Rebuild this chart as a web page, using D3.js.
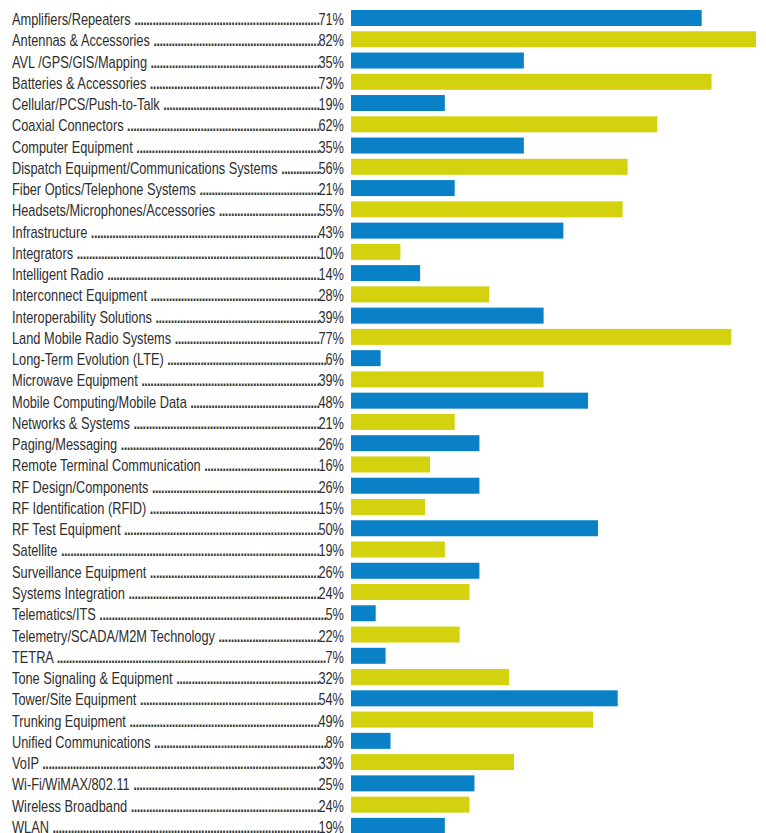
<!DOCTYPE html>
<html>
<head>
<meta charset="utf-8">
<script src="https://cdn.jsdelivr.net/npm/d3@7"></script>
<style>
  body { margin: 0; background: #fff; }
  text { font-family: "Liberation Sans", Arial, sans-serif; fill: #2e2e2e; font-size: 16px; }
  tspan.dots { font-weight: bold; fill: #3a3a3a; }
</style>
</head>
<body>
<div id="chart"></div>
<script>
// categories and values
var categories = [
    'Amplifiers/Repeaters', 'Antennas & Accessories', 'AVL /GPS/GIS/Mapping', 'Batteries & Accessories',
    'Cellular/PCS/Push-to-Talk', 'Coaxial Connectors', 'Computer Equipment',
    'Dispatch Equipment/Communications Systems', 'Fiber Optics/Telephone Systems',
    'Headsets/Microphones/Accessories', 'Infrastructure', 'Integrators', 'Intelligent Radio',
    'Interconnect Equipment', 'Interoperability Solutions', 'Land Mobile Radio Systems',
    'Long-Term Evolution (LTE)', 'Microwave Equipment', 'Mobile Computing/Mobile Data',
    'Networks & Systems', 'Paging/Messaging', 'Remote Terminal Communication', 'RF Design/Components',
    'RF Identification (RFID)', 'RF Test Equipment', 'Satellite', 'Surveillance Equipment',
    'Systems Integration', 'Telematics/ITS', 'Telemetry/SCADA/M2M Technology', 'TETRA',
    'Tone Signaling & Equipment', 'Tower/Site Equipment', 'Trunking Equipment',
    'Unified Communications', 'VoIP', 'Wi-Fi/WiMAX/802.11', 'Wireless Broadband', 'WLAN'
];
var values = [71, 82, 35, 73, 19, 62, 35, 56, 21, 55, 43, 10, 14, 28, 39, 77, 6, 39, 48, 21,
    26, 16, 26, 15, 50, 19, 26, 24, 5, 22, 7, 32, 54, 49, 8, 33, 25, 24, 19];
var colors = ['#0a80c6', '#d4d20f'];

var svgWidth = 766, svgHeight = 833;
var squeeze = 0.8;   // condensed look: horizontal text compression
var rowStep = 21.26, barH = 16;

var svg = d3.select('#chart').append('svg')
    .attr('width', svgWidth).attr('height', svgHeight);

// scales
var x = d3.scaleLinear()
    .domain([0, 82])
    .range([351, 756]);

var pad = (rowStep - barH) / rowStep;
var y0 = 10 - (rowStep - barH) / 2;
var y = d3.scaleBand()
    .domain(categories)
    .range([y0, y0 + rowStep * categories.length])
    .paddingInner(pad)
    .paddingOuter(pad / 2);

var data = categories.map(function(c, i) { return {name: c, value: values[i], i: i}; });

// bars
svg.selectAll('rect.bar')
    .data(data)
    .enter().append('rect')
    .attr('class', 'bar')
    .attr('x', x(0))
    .attr('y', function(d) { return y(d.name); })
    .attr('width', function(d) { return x(d.value) - x(0); })
    .attr('height', y.bandwidth())
    .attr('fill', function(d) { return colors[d.i % 2]; });

// text group, squeezed horizontally
var tg = svg.append('g')
    .attr('transform', 'scale(' + squeeze + ',1)');

var pctRight = 344;
var baseline = function(d) { return y(d.name) + y.bandwidth() / 2 + 7; };

var pcts = tg.selectAll('text.pct')
    .data(data)
    .enter().append('text')
    .attr('class', 'pct')
    .attr('x', pctRight / squeeze)
    .attr('y', baseline)
    .attr('text-anchor', 'end')
    .text(function(d) { return d.value + '%'; });

// labels with leader dots
var labels = tg.selectAll('text.label')
    .data(data)
    .enter().append('text')
    .attr('class', 'label')
    .attr('x', 12 / squeeze)
    .attr('y', baseline);

labels.each(function(d) {
    var el = d3.select(this);
    var pctEl = pcts.filter(function(p) { return p.i === d.i; }).node();
    var name = el.append('tspan').text(d.name + ' ');
    var used = name.node().getComputedTextLength();
    var room = (pctRight / squeeze) - pctEl.getComputedTextLength() - (12 / squeeze) - used - 2.5;
    var n = Math.max(1, Math.round(room / 3.8));
    el.append('tspan')
        .attr('class', 'dots')
        .attr('textLength', room)
        .attr('lengthAdjust', 'spacing')
        .text('.'.repeat(n));
});
</script>
</body>
</html>
